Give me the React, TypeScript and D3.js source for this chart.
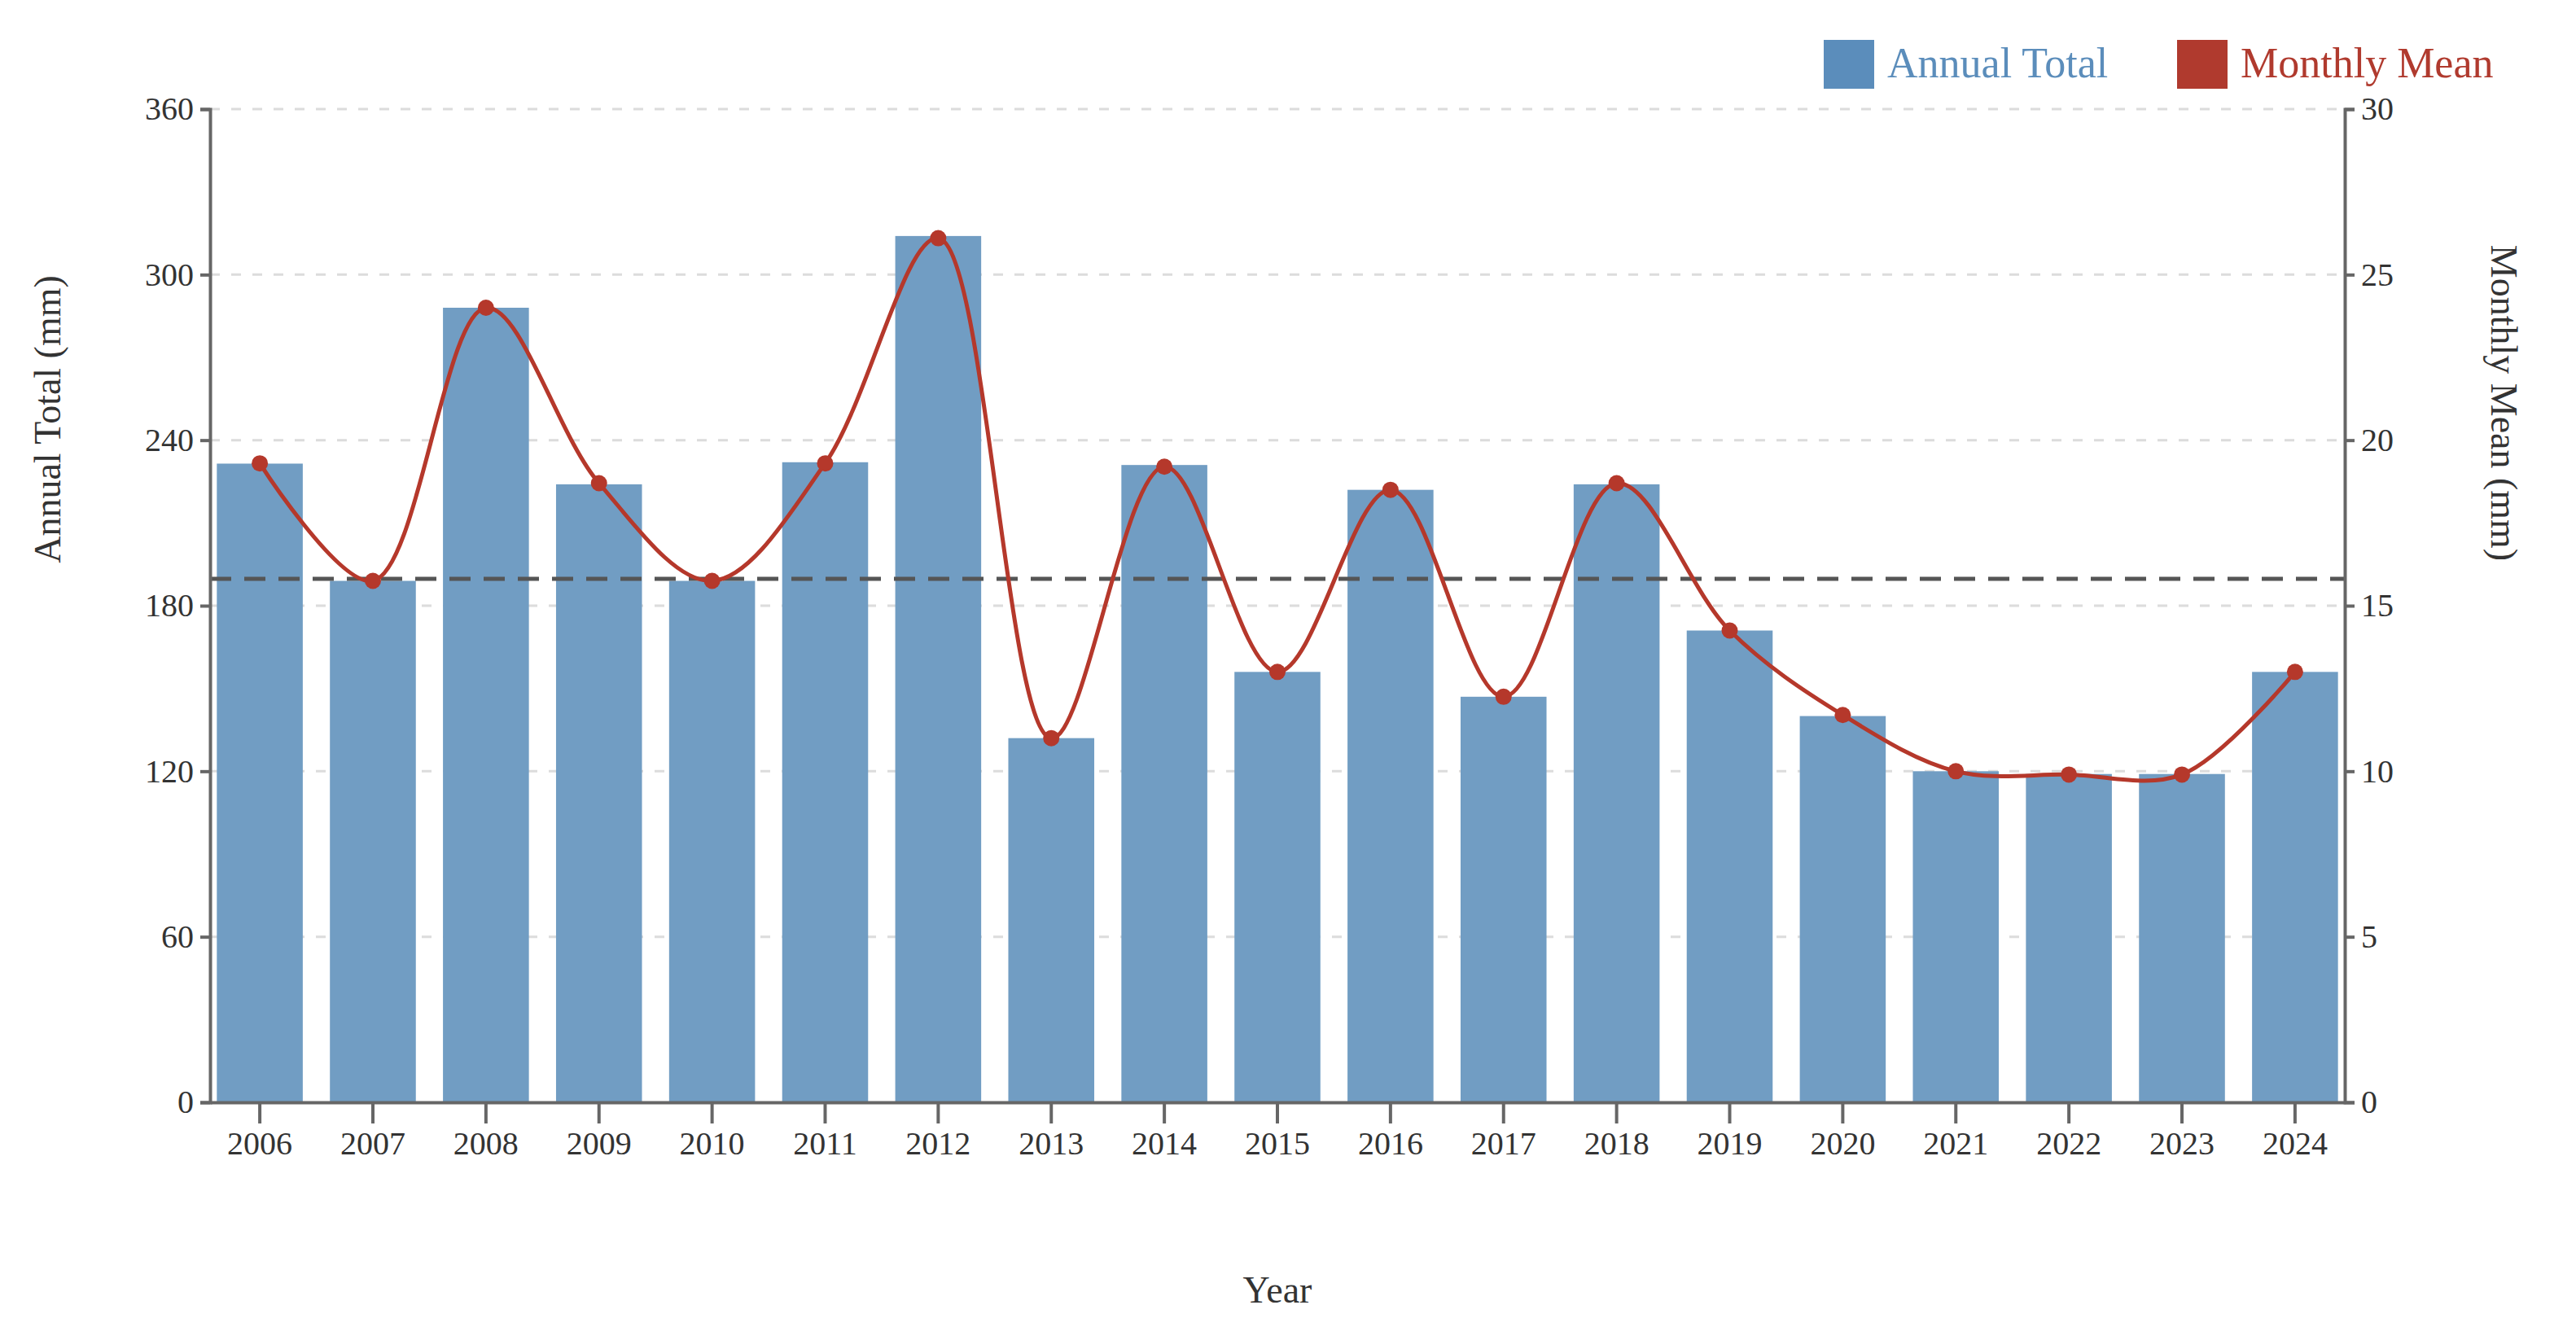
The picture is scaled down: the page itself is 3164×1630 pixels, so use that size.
import { useEffect, useRef } from 'react';
import * as d3 from 'd3';

const years = ['2006', '2007', '2008', '2009', '2010', '2011', '2012', '2013', '2014', '2015', '2016', '2017', '2018', '2019', '2020', '2021', '2022', '2023', '2024'];
const annualTotal = [231.5, 189, 288, 224, 189, 232, 314, 132, 231, 156, 222, 147, 224, 171, 140, 120, 119, 119, 156];
const monthlyMean = [19.3, 15.75, 24, 18.7, 15.75, 19.3, 26.1, 11, 19.2, 13, 18.5, 12.25, 18.7, 14.25, 11.7, 10, 9.9, 9.9, 13];
const leftTicks = [0, 60, 120, 180, 240, 300, 360];
const rightTicks = [0, 5, 10, 15, 20, 25, 30];

const FONT = '"Liberation Serif", "DejaVu Serif", serif';

export default function App() {
  const ref = useRef<SVGSVGElement>(null);

  useEffect(() => {
    if (!ref.current) return;
    const W = 3164, H = 1630;
    const margin = { top: 134, right: 284, bottom: 276, left: 258 };
    const innerW = W - margin.left - margin.right;
    const innerH = H - margin.top - margin.bottom;

    const svgRoot = d3.select(ref.current);
    svgRoot.selectAll('*').remove();
    const svg = svgRoot.append('g').attr('transform', `translate(${margin.left},${margin.top})`);

    const x = d3.scaleBand().domain(years).range([0, innerW]).paddingInner(0.24).paddingOuter(0.06);
    const yL = d3.scaleLinear().domain([0, 360]).range([innerH, 0]);
    const yR = d3.scaleLinear().domain([0, 30]).range([innerH, 0]);

    // grid
    svg.append('g')
      .selectAll('line')
      .data(leftTicks.filter(t => t > 0))
      .enter().append('line')
      .attr('x1', 0).attr('x2', innerW)
      .attr('y1', d => yL(d)).attr('y2', d => yL(d))
      .attr('stroke', '#dcdcdc').attr('stroke-width', 3).attr('stroke-dasharray', '12,14');

    // bars
    svg.append('g').selectAll('rect')
      .data(years.map((y, i) => ({ y, v: annualTotal[i] })))
      .enter().append('rect')
      .attr('x', d => x(d.y)!)
      .attr('y', d => yL(d.v))
      .attr('width', x.bandwidth())
      .attr('height', d => innerH - yL(d.v))
      .attr('fill', '#719dc3');

    // mean line
    const avg = d3.mean(annualTotal)!;
    svg.append('line')
      .attr('x1', 0).attr('x2', innerW)
      .attr('y1', yL(avg)).attr('y2', yL(avg))
      .attr('stroke', '#555').attr('stroke-width', 5).attr('stroke-dasharray', '26,16');

    // monthly line
    const pts = years.map((y, i) => ({ y, v: monthlyMean[i] }));
    const line = d3.line<{ y: string; v: number }>()
      .x(d => x(d.y)! + x.bandwidth() / 2)
      .y(d => yR(d.v))
      .curve(d3.curveCatmullRom.alpha(0.5));
    svg.append('path').datum(pts)
      .attr('d', line)
      .attr('fill', 'none').attr('stroke', '#b5382b').attr('stroke-width', 5);
    svg.append('g').selectAll('circle').data(pts).enter().append('circle')
      .attr('cx', d => x(d.y)! + x.bandwidth() / 2)
      .attr('cy', d => yR(d.v))
      .attr('r', 10).attr('fill', '#b5382b');

    const styleAxis = (g: any) => {
      g.select('.domain').attr('stroke', '#666').attr('stroke-width', 4);
      g.selectAll('.tick line').attr('stroke', '#666').attr('stroke-width', 4);
      g.selectAll('.tick text').attr('fill', '#333').attr('font-size', '40px').attr('font-family', FONT);
    };

    svg.append('g')
      .call(d3.axisLeft(yL).tickValues(leftTicks).tickSize(12).tickPadding(8).tickSizeOuter(12))
      .call(styleAxis);
    svg.append('g').attr('transform', `translate(${innerW},0)`)
      .call(d3.axisRight(yR).tickValues(rightTicks).tickSize(12).tickPadding(8).tickSizeOuter(12))
      .call(styleAxis);
    svg.append('g').attr('transform', `translate(0,${innerH})`)
      .call(d3.axisBottom(x).tickSize(26).tickPadding(10).tickSizeOuter(0))
      .call(styleAxis);

    // axis titles
    svgRoot.append('text')
      .attr('transform', `translate(74,515) rotate(-90)`)
      .attr('text-anchor', 'middle').attr('font-size', '46px').attr('font-family', FONT).attr('fill', '#333')
      .text('Annual Total (mm)');
    svgRoot.append('text')
      .attr('transform', `translate(3060,495) rotate(90)`)
      .attr('text-anchor', 'middle').attr('font-size', '46px').attr('font-family', FONT).attr('fill', '#333')
      .text('Monthly Mean (mm)');
    svgRoot.append('text')
      .attr('x', margin.left + innerW / 2).attr('y', 1600)
      .attr('text-anchor', 'middle').attr('font-size', '46px').attr('font-family', FONT).attr('fill', '#333')
      .text('Year');

    // legend
    const legend = [
      { label: 'Annual Total', color: '#5b8dbb', x: 2240 },
      { label: 'Monthly Mean', color: '#b03a2e', x: 2674 },
    ];
    const lg = svgRoot.append('g').selectAll('g').data(legend).enter().append('g')
      .attr('transform', d => `translate(${d.x},49)`);
    lg.append('rect').attr('width', 62).attr('height', 60).attr('fill', d => d.color);
    lg.append('text').attr('x', 78).attr('y', 46)
      .attr('font-size', '52px').attr('font-family', FONT).attr('fill', d => d.color)
      .text(d => d.label);
  }, []);

  return (
    <svg ref={ref} width={3164} height={1630}
      style={{ position: 'absolute', top: 0, left: 0, background: '#fff' }} />
  );
}
